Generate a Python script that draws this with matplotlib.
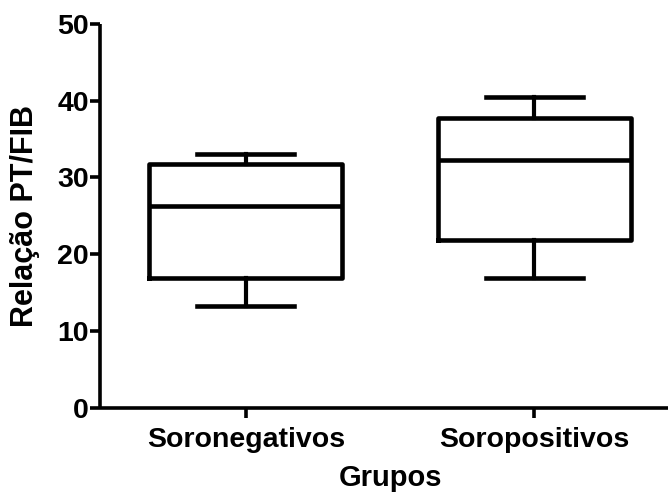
import matplotlib
matplotlib.use("Agg")
import matplotlib.pyplot as plt

groups = ["Soronegativos", "Soropositivos"]
q1 = [16.9, 21.8]
medians = [26.3, 32.3]
q3 = [31.8, 37.8]
whislo = [13.2, 16.9]
whishi = [33.0, 40.5]
yticks = [0, 10, 20, 30, 40, 50]

plt.rcParams['font.family'] = ['Liberation Sans', 'DejaVu Sans']
plt.rcParams['font.weight'] = 'bold'

fig = plt.figure(figsize=(6.68, 4.94), dpi=100)
ax = fig.add_axes([100/668, 86.5/494, 568/668, 383.5/494])

stats = []
for i, g in enumerate(groups):
    stats.append(dict(label=g, q1=q1[i], med=medians[i], q3=q3[i],
                      whislo=whislo[i], whishi=whishi[i], fliers=[]))

ax.bxp(stats, positions=[1, 2], widths=0.67, showfliers=False,
       boxprops=dict(color='black', linewidth=3.3, solid_joinstyle='round'),
       medianprops=dict(color='black', linewidth=3.3),
       whiskerprops=dict(color='black', linewidth=3.0),
       capprops=dict(color='black', linewidth=3.3))

ax.set_xlim(0.495, 0.495 + 568/288.6)
ax.set_ylim(0, 50)
ax.set_yticks(yticks)
ax.set_xticks([1, 2])
ax.set_xticklabels(groups)
for s in ['top', 'right']:
    ax.spines[s].set_visible(False)
for s in ['left', 'bottom']:
    ax.spines[s].set_linewidth(2.6)
    ax.spines[s].set_capstyle('butt')
ax.tick_params(axis='both', width=2.6, length=7, labelsize=20.5, colors='black')
ax.tick_params(axis='y', pad=1)
ax.tick_params(axis='x', pad=7)
for lab in ax.get_xticklabels() + ax.get_yticklabels():
    lab.set_fontweight('bold')
ax.set_ylabel('Relação PT/FIB', fontsize=22, fontweight='bold')
ax.set_xlabel('Grupos', fontsize=21, fontweight='bold')
ax.yaxis.set_label_coords(-(100 - 25) / 568, 0.5)
ax.yaxis.label.set_va('center')
ax.xaxis.set_label_coords((391 - 100) / 568, -(464 - 407.5) / 383.5)
ax.xaxis.label.set_va('top')

fig.savefig('out.png', dpi=100)
